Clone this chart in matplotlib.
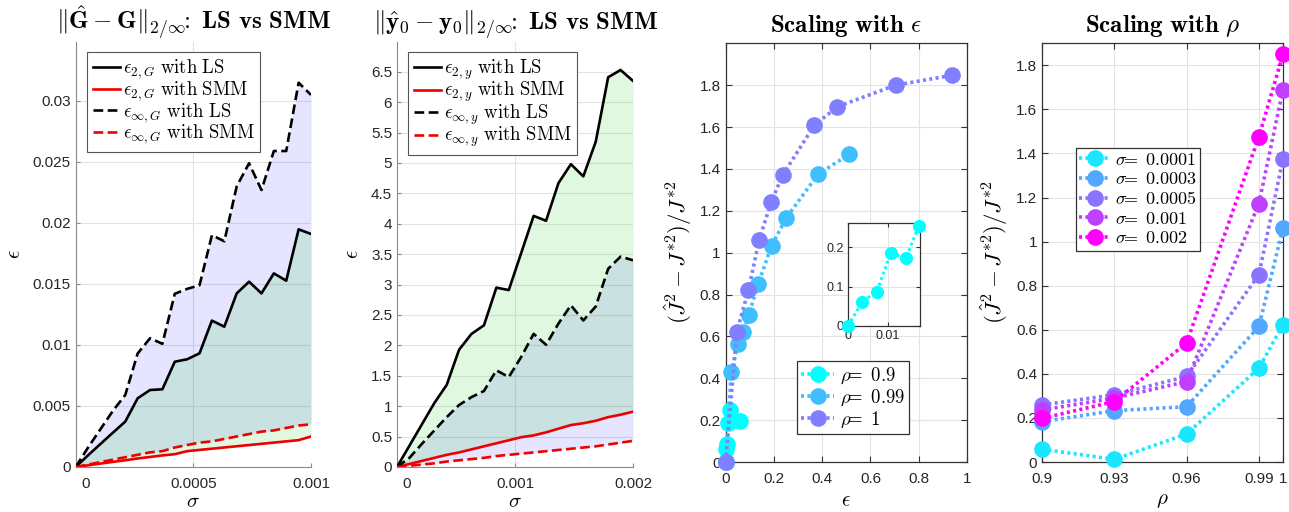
import numpy as np
import matplotlib
matplotlib.use('Agg')
import matplotlib.pyplot as plt
from matplotlib.transforms import ScaledTranslation

plt.rcParams['mathtext.fontset'] = 'cm'
plt.rcParams['font.family'] = ['Liberation Sans', 'DejaVu Sans']
plt.rcParams['lines.scale_dashes'] = False
plt.rcParams['axes.unicode_minus'] = False

# ---------------- data ----------------
sigma_G = [0, 5.26e-5, 1.053e-4, 1.579e-4, 2.105e-4, 2.632e-4, 3.158e-4, 3.684e-4,
           4.211e-4, 4.737e-4, 5.263e-4, 5.789e-4, 6.316e-4, 6.842e-4, 7.368e-4,
           7.895e-4, 8.421e-4, 8.947e-4, 9.474e-4, 1.0e-3]
e2G_LS = [0, 0.00096, 0.00189, 0.00281, 0.00372, 0.00563, 0.00631, 0.00637, 0.00863,
          0.00883, 0.00932, 0.0120, 0.0115, 0.01423, 0.01519, 0.01423, 0.01587,
          0.01527, 0.01948, 0.0191]
einfG_LS = [0, 0.0016, 0.0031, 0.0046, 0.0059, 0.0093, 0.01055, 0.0101, 0.0142,
            0.0146, 0.0149, 0.0190, 0.0185, 0.0230, 0.0249, 0.0227, 0.0259, 0.0259,
            0.0315, 0.0305]
e2G_SMM = [0, 0.00014, 0.00028, 0.00042, 0.00055, 0.0007, 0.00082, 0.00095, 0.00105,
           0.0013, 0.0014, 0.0015, 0.0016, 0.0017, 0.0018, 0.0019, 0.0020, 0.0021,
           0.0022, 0.0025]
einfG_SMM = [0, 0.0002, 0.0004, 0.0006, 0.0008, 0.0010, 0.0012, 0.0013, 0.0016,
             0.0018, 0.0020, 0.0021, 0.0023, 0.0025, 0.0027, 0.0029, 0.0030, 0.0032,
             0.0034, 0.0035]

sigma_y = [0, 1.053e-4, 2.105e-4, 3.158e-4, 4.211e-4, 5.263e-4, 6.316e-4, 7.368e-4,
           8.421e-4, 9.474e-4, 1.0526e-3, 1.1579e-3, 1.2632e-3, 1.3684e-3, 1.4737e-3,
           1.5789e-3, 1.6842e-3, 1.7895e-3, 1.8947e-3, 2.0e-3]
e2y_LS = [0, 0.35, 0.70, 1.05, 1.35, 1.93, 2.19, 2.33, 2.95, 2.91, 3.52, 4.13, 4.05,
          4.67, 4.98, 4.78, 5.35, 6.41, 6.53, 6.35]
einfy_LS = [0, 0.15, 0.38, 0.60, 0.82, 1.02, 1.15, 1.25, 1.59, 1.48, 1.81, 2.19, 2.01,
            2.36, 2.66, 2.41, 2.64, 3.26, 3.46, 3.40]
e2y_SMM = [0, 0.05, 0.10, 0.15, 0.20, 0.24, 0.29, 0.34, 0.39, 0.44, 0.49, 0.52, 0.57,
           0.63, 0.69, 0.72, 0.76, 0.82, 0.86, 0.91]
einfy_SMM = [0, 0.02, 0.04, 0.06, 0.09, 0.11, 0.13, 0.15, 0.18, 0.20, 0.22, 0.24, 0.26,
             0.28, 0.30, 0.32, 0.34, 0.37, 0.40, 0.43]

eps_r09 = [0, 0.003, 0.005, 0.010, 0.060, 0.018]
J_r09 = [0, 0.060, 0.087, 0.185, 0.195, 0.250]
eps_r099 = [0, 0.023, 0.051, 0.072, 0.095, 0.134, 0.190, 0.251, 0.384, 0.511]
J_r099 = [0, 0.432, 0.565, 0.623, 0.700, 0.848, 1.033, 1.166, 1.376, 1.469]
eps_r1 = [0, 0.046, 0.094, 0.139, 0.189, 0.236, 0.367, 0.463, 0.704, 0.937]
J_r1 = [0, 0.623, 0.820, 1.062, 1.243, 1.370, 1.608, 1.697, 1.800, 1.847]
eps_inset = [0, 0.0036, 0.0072, 0.0107, 0.0145, 0.0177]
J_inset = [0, 0.062, 0.087, 0.185, 0.172, 0.253]
rho_labels = ['0.9', '0.99', '1']

rho = [0.9, 0.93, 0.96, 0.99, 1.0]
J_s1 = [0.058, 0.012, 0.127, 0.426, 0.623]
J_s3 = [0.183, 0.233, 0.251, 0.615, 1.062]
J_s5 = [0.259, 0.305, 0.388, 0.850, 1.376]
J_s10 = [0.236, 0.290, 0.365, 1.173, 1.690]
J_s20 = [0.198, 0.274, 0.540, 1.476, 1.850]
sigma_labels = ['0.0001', '0.0003', '0.0005', '0.001', '0.002']

# ---------------- figure ----------------
W, H = 1289, 512
fig = plt.figure(figsize=(W / 100, H / 100), dpi=100)

def fr(l, r, t, b):
    return [l / W, 1 - b / H, (r - l) / W, (b - t) / H]

ax1 = fig.add_axes(fr(75.7, 311, 41.7, 467))
ax2 = fig.add_axes(fr(397, 633, 41.7, 467))
ax3 = fig.add_axes(fr(725.7, 967, 43.3, 462))
ax4 = fig.add_axes(fr(1042, 1283, 43.3, 462))

gridc = '#e3e3e3'
tfs = 11
title_fs = 18
leg_fs = 13.5

def style_open(ax):
    for s in ['top', 'right']:
        ax.spines[s].set_visible(False)
    for s in ['left', 'bottom']:
        ax.spines[s].set_color('#8a8a8a')
        ax.spines[s].set_linewidth(0.8)
    ax.tick_params(direction='in', length=3, color='#8a8a8a', labelsize=tfs,
                   labelcolor='#262626')
    ax.tick_params(axis='x', pad=7)
    ax.grid(True, color=gridc, linewidth=0.8)
    ax.set_axisbelow(True)

def style_box(ax):
    for s in ax.spines.values():
        s.set_color('#333333')
        s.set_linewidth(0.9)
    ax.tick_params(direction='in', length=4, color='#333333', labelsize=tfs,
                   labelcolor='#262626', top=True, right=True)
    ax.tick_params(axis='x', pad=7)
    ax.grid(True, color=gridc, linewidth=0.8)
    ax.set_axisbelow(True)

lw = 1.9
dash = (7, 3.2)

def error_panel(ax, x, e2LS, einfLS, e2SMM, einfSMM, sub, title, xmax, ymax,
                yticks, ylabels, xticks, xlabels):
    ax.fill_between(x, einfLS, einfSMM, color=(0, 0, 1), alpha=0.10, linewidth=0, zorder=1)
    ax.fill_between(x, e2LS, e2SMM, color=(0, 0.8, 0), alpha=0.12, linewidth=0, zorder=1)
    l1, = ax.plot(x, e2LS, color='black', lw=lw, zorder=3)
    l2, = ax.plot(x, e2SMM, color='#ee0000', lw=lw, zorder=3)
    l3, = ax.plot(x, einfLS, color='black', lw=lw, linestyle=(0, dash), zorder=3)
    l4, = ax.plot(x, einfSMM, color='#ee0000', lw=lw, linestyle=(0, dash), zorder=3)
    ax.set_xlim(0, xmax)
    ax.set_ylim(0, ymax)
    ax.set_yticks(yticks)
    ax.set_yticklabels(ylabels)
    ax.set_xticks(xticks)
    ax.set_xticklabels(xlabels)
    style_open(ax)
    lab = ax.xaxis.get_major_ticks()[0].label1
    lab.set_transform(lab.get_transform() + ScaledTranslation(0.10, 0, fig.dpi_scale_trans))
    ax.set_title(title, fontsize=title_fs, pad=8)
    ax.set_xlabel(r'$\sigma$', fontsize=15, labelpad=1)
    ax.set_ylabel(r'$\epsilon$', fontsize=15, labelpad=6)
    labels = [r'$\epsilon_{2,%s}\ \mathrm{with\ LS}$' % sub,
              r'$\epsilon_{2,%s}\ \mathrm{with\ SMM}$' % sub,
              r'$\epsilon_{\infty,%s}\ \mathrm{with\ LS}$' % sub,
              r'$\epsilon_{\infty,%s}\ \mathrm{with\ SMM}$' % sub]
    leg = ax.legend([l1, l2, l3, l4], labels, loc='upper left',
                    bbox_to_anchor=(0.048, 0.976), borderaxespad=0, fontsize=leg_fs,
                    handlelength=1.45, handletextpad=0.15, labelspacing=-0.1,
                    borderpad=0.3, fancybox=False, framealpha=1)
    leg.get_frame().set_edgecolor('#555555')
    leg.get_frame().set_linewidth(0.8)
    leg.set_zorder(5)

colon = r'\!\!\mathbf{:}\ '
error_panel(ax1, sigma_G, e2G_LS, einfG_LS, e2G_SMM, einfG_SMM, 'G',
            r'$\|\hat{\mathbf{G}}-\mathbf{G}\|_{2/\infty}' + colon + r'\mathbf{LS\ vs\ SMM}$',
            0.001, 0.03486,
            [0, 0.005, 0.01, 0.015, 0.02, 0.025, 0.03],
            ['0', '0.005', '0.01', '0.015', '0.02', '0.025', '0.03'],
            [0, 0.0005, 0.001], ['0', '0.0005', '0.001'])
error_panel(ax2, sigma_y, e2y_LS, einfy_LS, e2y_SMM, einfy_SMM, 'y',
            r'$\|\hat{\mathbf{y}}_0-\mathbf{y}_0\|_{2/\infty}' + colon + r'\mathbf{LS\ vs\ SMM}$',
            0.002, 6.995,
            [0, 0.5, 1, 1.5, 2, 2.5, 3, 3.5, 4, 4.5, 5, 5.5, 6, 6.5],
            ['0', '0.5', '1', '1.5', '2', '2.5', '3', '3.5', '4', '4.5', '5', '5.5', '6', '6.5'],
            [0, 0.001, 0.002], ['0', '0.001', '0.002'])

# ---------------- panel 3 ----------------
cool = plt.get_cmap('cool')
rho_cols = [cool(0.0), cool(0.25), cool(0.5)]
ms = 12
dot = (2.2, 2.4)
handles3 = []
for xs, ys, c in zip([eps_r09, eps_r099, eps_r1], [J_r09, J_r099, J_r1], rho_cols):
    h, = ax3.plot(xs, ys, linestyle=(0, dot), lw=2.6, color=c, marker='o',
                  markersize=ms, markeredgewidth=0, clip_on=False, zorder=3,
                  dash_capstyle='butt')
    handles3.append(h)
ax3.set_xlim(0, 1)
ax3.set_ylim(0, 2.0)
ax3.set_xticks([0, 0.2, 0.4, 0.6, 0.8, 1])
ax3.set_xticklabels(['0', '0.2', '0.4', '0.6', '0.8', '1'])
ax3.set_yticks([0, 0.2, 0.4, 0.6, 0.8, 1, 1.2, 1.4, 1.6, 1.8])
ax3.set_yticklabels(['0', '0.2', '0.4', '0.6', '0.8', '1', '1.2', '1.4', '1.6', '1.8'])
style_box(ax3)
ax3.set_title(r'$\mathbf{Scaling\ with}\ \epsilon$', fontsize=title_fs, pad=8)
ax3.set_xlabel(r'$\epsilon$', fontsize=15, labelpad=4)
ax3.set_ylabel(r'$(\hat{J}^2-J^{*2})/J^{*2}$', fontsize=16.5, labelpad=4)
eq = r'\!\!=\ '
leg3 = ax3.legend(handles3, [r'$\rho' + eq + r'%s$' % r for r in rho_labels],
                  loc='lower left', bbox_to_anchor=(0.295, 0.067), borderaxespad=0,
                  fontsize=leg_fs, handlelength=1.8, handletextpad=0.3,
                  labelspacing=0.1, borderpad=0.2, fancybox=False, framealpha=1)
leg3.get_frame().set_edgecolor('#333333')
leg3.get_frame().set_linewidth(0.9)

# inset
axi = fig.add_axes(fr(848, 920, 223.3, 326))
axi.plot(eps_inset, J_inset, linestyle=(0, (2.0, 2.2)), lw=2.2, color=rho_cols[0],
         marker='o', markersize=9.5, markeredgewidth=0, clip_on=False, zorder=3,
         dash_capstyle='butt')
axi.set_xlim(0, 0.018)
axi.set_ylim(0, 0.26)
axi.set_xticks([0, 0.01])
axi.set_xticklabels(['0', '0.01'])
axi.set_yticks([0, 0.1, 0.2])
axi.set_yticklabels(['0', '0.1', '0.2'])
for s in axi.spines.values():
    s.set_color('#333333')
    s.set_linewidth(0.9)
axi.tick_params(direction='in', length=3, color='#333333', labelsize=9,
                labelcolor='#262626', top=True, right=True, pad=3)
axi.grid(True, color=gridc, linewidth=0.8)
axi.set_axisbelow(True)

# ---------------- panel 4 ----------------
sig_cols = [(0.1, 0.9, 1.0), (0.32, 0.66, 1.0), (0.55, 0.45, 1.0), (0.75, 0.25, 1.0),
            (1.0, 0.0, 1.0)]
handles4 = []
for ys, c in zip([J_s1, J_s3, J_s5, J_s10, J_s20], sig_cols):
    h, = ax4.plot(rho, ys, linestyle=(0, dot), lw=2.6, color=c, marker='o',
                  markersize=ms, markeredgewidth=0, clip_on=False, zorder=3,
                  dash_capstyle='butt')
    handles4.append(h)
ax4.set_xlim(0.9, 1.0)
ax4.set_ylim(0, 1.9)
ax4.set_xticks([0.9, 0.93, 0.96, 0.99, 1.0])
ax4.set_xticklabels(['0.9', '0.93', '0.96', '0.99', '1'])
ax4.set_yticks([0, 0.2, 0.4, 0.6, 0.8, 1, 1.2, 1.4, 1.6, 1.8])
ax4.set_yticklabels(['0', '0.2', '0.4', '0.6', '0.8', '1', '1.2', '1.4', '1.6', '1.8'])
style_box(ax4)
ax4.set_title(r'$\mathbf{Scaling\ with}\ \rho$', fontsize=title_fs, pad=8)
ax4.set_xlabel(r'$\rho$', fontsize=15, labelpad=4)
ax4.set_ylabel(r'$(\hat{J}^2-J^{*2})/J^{*2}$', fontsize=16.5, labelpad=4)
leg4 = ax4.legend(handles4, [r'$\sigma' + eq + r'%s$' % s for s in sigma_labels],
                  loc='upper left', bbox_to_anchor=(0.14, 0.75), borderaxespad=0,
                  fontsize=13, handlelength=1.7, handletextpad=0.25,
                  labelspacing=0.15, borderpad=0.2, fancybox=False, framealpha=1)
leg4.get_frame().set_edgecolor('#333333')
leg4.get_frame().set_linewidth(0.9)

fig.savefig('out.png', dpi=100)
